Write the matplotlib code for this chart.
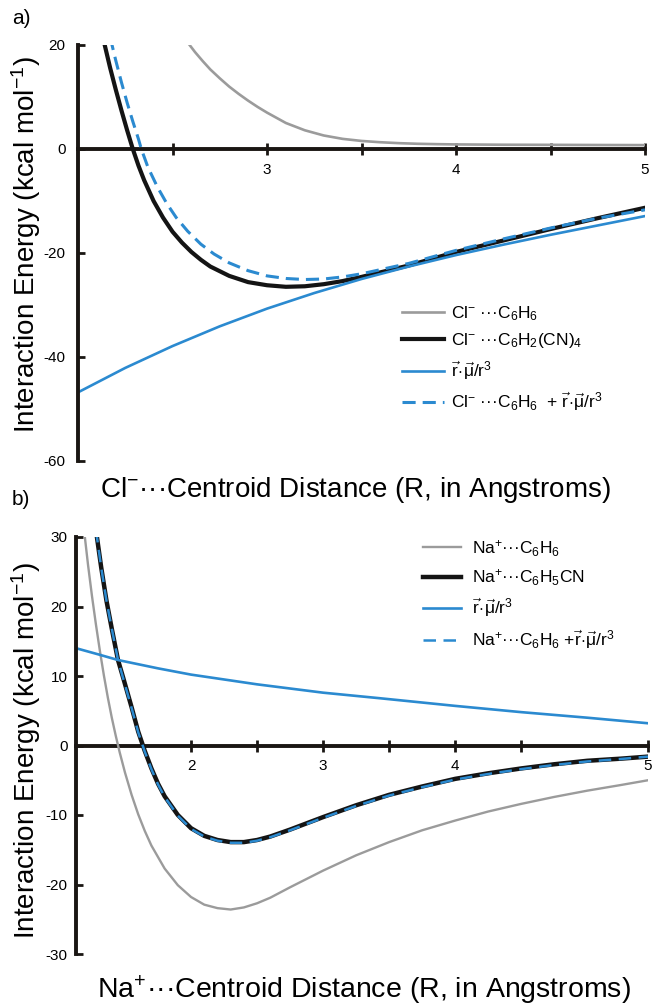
import numpy as np
import matplotlib.pyplot as plt

plt.rcParams['font.family'] = ['Liberation Sans', 'DejaVu Sans']
plt.rcParams['mathtext.fontset'] = 'custom'
plt.rcParams['mathtext.rm'] = 'Liberation Sans'
plt.rcParams['mathtext.it'] = 'Liberation Sans:italic'
plt.rcParams['mathtext.bf'] = 'Liberation Sans:bold'
plt.rcParams['axes.unicode_minus'] = False

BLUE = '#2b8ad0'
GRAY = '#9b9b9b'
BLACK = '#141414'
AXCOL = '#1a1613'

# ---------------- panel a: Cl- ... arene (R in Angstroms, kcal/mol)
a_benz_r = [2.58, 2.62, 2.66, 2.70, 2.75, 2.80, 2.85, 2.90, 2.95, 3.00, 3.10, 3.20, 3.30,
            3.40, 3.50, 3.60, 3.70, 3.80, 3.90, 4.00, 4.25, 4.50, 4.75, 5.00]
a_benz_e = [20.5, 18.6, 16.9, 15.3, 13.6, 12.0, 10.6, 9.3, 8.1, 7.0, 5.0, 3.6, 2.6,
            1.95, 1.55, 1.3, 1.12, 1.0, 0.93, 0.88, 0.82, 0.8, 0.77, 0.75]

a_tcnb_r = [2.14, 2.17, 2.20, 2.23, 2.26, 2.29, 2.32, 2.35, 2.40, 2.45, 2.50, 2.55, 2.60,
            2.65, 2.70, 2.80, 2.90, 3.00, 3.10, 3.20, 3.30, 3.40, 3.50, 3.75, 4.00, 4.25,
            4.50, 4.75, 5.00]
a_tcnb_e = [20.2, 15.6, 11.4, 7.4, 3.6, 0.0, -3.2, -6.0, -10.0, -13.2, -15.9, -18.0, -19.8,
            -21.3, -22.6, -24.4, -25.6, -26.2, -26.5, -26.4, -26.0, -25.4, -24.6, -22.4, -19.8,
            -17.6, -15.4, -13.3, -11.3]

a_dip_r = [2.0, 2.25, 2.5, 2.75, 3.0, 3.25, 3.5, 3.75, 4.0, 4.25, 4.5, 4.75, 5.0]
a_dip_e = [-46.8, -42.1, -37.9, -34.1, -30.7, -27.7, -25.0, -22.6, -20.4, -18.4, -16.5, -14.7, -12.9]

a_sum_r = [2.17, 2.20, 2.23, 2.26, 2.29, 2.32, 2.335, 2.37, 2.42, 2.47, 2.52, 2.58, 2.65,
           2.72, 2.80, 2.90, 3.00, 3.10, 3.20, 3.30, 3.40, 3.50, 3.75, 4.00, 4.25, 4.50,
           4.75, 5.00]
a_sum_e = [21.5, 17.0, 12.8, 8.9, 5.3, 1.9, 0.0, -3.5, -7.3, -10.5, -13.2, -15.8, -18.3,
           -20.2, -21.9, -23.4, -24.4, -24.9, -25.1, -25.0, -24.6, -24.0, -22.0, -19.5, -17.3,
           -15.2, -13.3, -11.7]

# ---------------- panel b: Na+ ... arene
b_benz_r = [1.19, 1.22, 1.25, 1.28, 1.31, 1.34, 1.37, 1.40, 1.43, 1.46, 1.50, 1.55, 1.60,
            1.65, 1.70, 1.80, 1.90, 2.00, 2.10, 2.20, 2.30, 2.40, 2.50, 2.60, 2.75, 3.00,
            3.25, 3.50, 3.75, 4.00, 4.25, 4.50, 4.75, 5.00, 5.25, 5.46]
b_benz_e = [31.0, 26.0, 21.5, 17.4, 13.6, 10.1, 6.9, 4.0, 1.4, -1.0, -3.9, -7.1, -9.9,
            -12.3, -14.4, -17.7, -20.1, -21.8, -22.9, -23.4, -23.6, -23.3, -22.7, -21.9, -20.4,
            -18.0, -15.8, -13.9, -12.2, -10.8, -9.5, -8.4, -7.4, -6.5, -5.7, -5.0]

b_bzcn_r = [1.28, 1.32, 1.36, 1.40, 1.447, 1.487, 1.55, 1.60, 1.65, 1.70, 1.75, 1.80, 1.90,
            2.00, 2.10, 2.20, 2.30, 2.40, 2.50, 2.60, 2.75, 3.00, 3.25, 3.50, 3.75, 4.00,
            4.25, 4.50, 4.75, 5.00, 5.25, 5.46]
b_bzcn_e = [31.0, 25.6, 20.8, 16.8, 12.3, 9.7, 5.5, 2.0, -0.8, -3.3, -5.5, -7.3, -10.0,
            -11.9, -13.0, -13.6, -13.9, -13.9, -13.6, -13.1, -12.1, -10.3, -8.6, -7.1, -5.9,
            -4.8, -4.0, -3.3, -2.7, -2.2, -1.9, -1.6]

b_dip_r = [1.129, 1.3, 1.447, 1.75, 2.0, 2.5, 3.0, 3.43, 4.0, 4.5, 5.0, 5.46]
b_dip_e = [14.0, 13.1, 12.3, 11.1, 10.2, 8.8, 7.6, 6.8, 5.7, 4.8, 4.0, 3.2]

b_sum_r = b_bzcn_r
b_sum_e = [31.0, 25.6, 20.8, 16.8, 12.3, 9.6, 5.4, 1.9, -0.9, -3.4, -5.6, -7.4, -10.1,
           -12.0, -13.1, -13.7, -14.0, -14.0, -13.7, -13.2, -12.2, -10.4, -8.7, -7.2, -6.0,
           -4.9, -4.1, -3.4, -2.8, -2.3, -1.95, -1.6]

XMAX_B = 5.46
vec = r'$\vec{\mathrm{r}}\!\cdot\!\vec{\mathrm{\mu}}/\mathrm{r}^3$'

fig = plt.figure(figsize=(6.54, 10.07), dpi=100)
ax_a = fig.add_axes([78 / 654, 1 - 461 / 1007, 567 / 654, 416 / 1007])
ax_b = fig.add_axes([76 / 654, 1 - 954 / 1007, 572 / 654, 417 / 1007])


def style(ax):
    for s in ['top', 'right']:
        ax.spines[s].set_visible(False)
    ax.spines['bottom'].set_position(('data', 0))
    ax.spines['bottom'].set_linewidth(2.8)
    ax.spines['left'].set_linewidth(2.8)
    ax.spines['bottom'].set_color(AXCOL)
    ax.spines['left'].set_color(AXCOL)
    ax.spines['bottom'].set_zorder(1)
    ax.tick_params(axis='y', direction='in', length=5, width=2, labelsize=11, pad=9, color=AXCOL)
    ax.tick_params(axis='x', which='both', direction='inout', length=8, width=2, labelsize=11,
                   pad=6, color=AXCOL)


# panel a
ax_a.plot(a_benz_r, a_benz_e, color=GRAY, lw=1.9, label=r'Cl$^{-}$ ···C$_6$H$_6$')
ax_a.plot(a_tcnb_r, a_tcnb_e, color=BLACK, lw=3.0, label=r'Cl$^{-}$ ···C$_6$H$_2$(CN)$_4$')
ax_a.plot(a_dip_r, a_dip_e, color=BLUE, lw=1.9, label=vec)
ax_a.plot(a_sum_r, a_sum_e, color=BLUE, lw=2.2, dashes=(4.3, 2.3),
          label=r'Cl$^{-}$ ···C$_6$H$_6$  + ' + vec)
ax_a.set_xlim(2, 5)
ax_a.set_ylim(-60, 20)
style(ax_a)
ax_a.set_yticks([20, 0, -20, -40, -60])
ax_a.set_xticks([3, 4, 5])
ax_a.set_xticks([2.5, 3.5, 4.5], minor=True)
ax_a.legend(loc='upper left', bbox_to_anchor=(402 / 654, 1 - 304 / 1007),
            bbox_transform=fig.transFigure, frameon=False, fontsize=12.5,
            borderpad=0, borderaxespad=0, handlelength=2.4, handletextpad=0.45,
            labelspacing=0.5)

# panel b
ax_b.plot(b_benz_r, b_benz_e, color=GRAY, lw=1.7, label=r'Na$^{+}$···C$_6$H$_6$')
ax_b.plot(b_bzcn_r, b_bzcn_e, color=BLACK, lw=3.2, label=r'Na$^{+}$···C$_6$H$_5$CN')
ax_b.plot(b_dip_r, b_dip_e, color=BLUE, lw=1.9, label=vec)
ax_b.plot(b_sum_r, b_sum_e, color=BLUE, lw=1.8, dashes=(5, 3),
          label=r'Na$^{+}$···C$_6$H$_6$ +' + vec)
ax_b.set_xlim(1.129, XMAX_B)
ax_b.set_ylim(-30, 30)
style(ax_b)
ax_b.tick_params(axis='y', pad=6)
ax_b.set_yticks([30, 20, 10, 0, -10, -20, -30])
# last label "5" sits at the end of the axis in the original figure
ax_b.set_xticks([2, 3, 4, XMAX_B])
ax_b.set_xticklabels(['2', '3', '4', '5'])
ax_b.set_xticks([2.5, 3.5, 4.5], minor=True)
ax_b.legend(loc='upper left', bbox_to_anchor=(423 / 654, 1 - 538 / 1007),
            bbox_transform=fig.transFigure, frameon=False, fontsize=12.5,
            borderpad=0, borderaxespad=0, handlelength=2.2, handletextpad=0.6,
            labelspacing=0.5)

# axis titles and panel letters
ylab = r'Interaction Energy (kcal mol$^{\mathregular{-1}}$)'
fig.text(26 / 654, 1 - 245 / 1007, ylab, rotation=90, ha='center', va='center', fontsize=20)
fig.text(26 / 654, 1 - 751 / 1007, ylab, rotation=90, ha='center', va='center', fontsize=20)
fig.text(355 / 654, 1 - 490 / 1007, r'Cl$^{-}$···Centroid Distance (R, in Angstroms)',
         ha='center', va='center', fontsize=20)
fig.text(364 / 654, 1 - 990 / 1007, r'Na$^{+}$···Centroid Distance (R, in Angstroms)',
         ha='center', va='center', fontsize=20.5)
fig.text(12 / 654, 1 - 18 / 1007, 'a)', ha='left', va='center', fontsize=15)
fig.text(12 / 654, 1 - 500 / 1007, 'b)', ha='left', va='center', fontsize=15)

fig.savefig('out.png', dpi=100)
